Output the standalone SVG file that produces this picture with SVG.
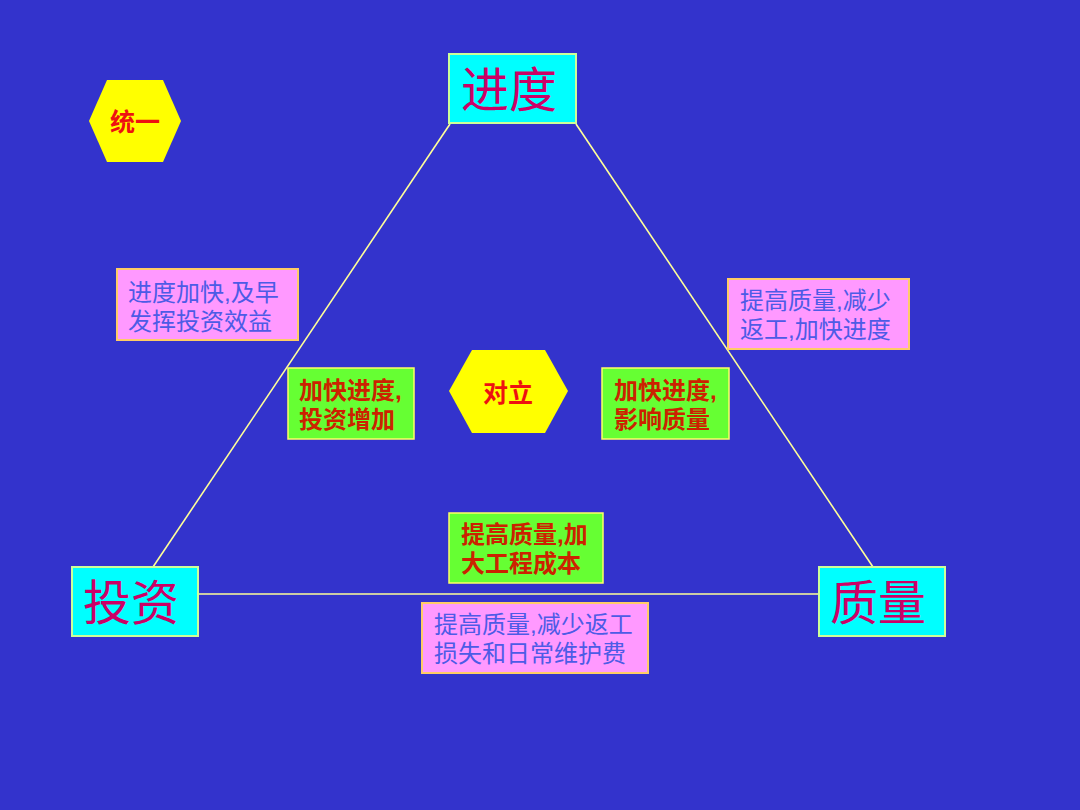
<svg xmlns="http://www.w3.org/2000/svg" width="1080" height="810" viewBox="0 0 1080 810">
<style>
.main{fill:#00FFFF;stroke:#CCFF99;stroke-width:2}
.mainT{font-family:"Liberation Serif","Noto Sans CJK SC",serif;font-size:48px;fill:#CC0066}
.pink{fill:#FF99FF;stroke:#FFCC66;stroke-width:2}
.pinkT{font-family:"Liberation Sans","Noto Sans CJK SC",sans-serif;font-size:24px;fill:#4D5BE6}
.green{fill:#66FF33;stroke:#FFFF66;stroke-width:1.5}
.greenT{font-family:"Liberation Sans","Noto Sans CJK SC",sans-serif;font-size:24px;font-weight:bold;fill:#CC2200}
.hex{fill:#FFFF00}
.hexT{font-family:"Liberation Sans","Noto Sans CJK SC",sans-serif;font-size:25px;font-weight:bold;fill:#EE1111}
.edge{stroke:#FFFF99;stroke-width:1.6;fill:none}
</style>
<rect x="0" y="0" width="1080" height="810" fill="#3333CC"/>
<g id="connectors">
<line class="edge" x1="450" y1="124" x2="153" y2="567"/>
<line class="edge" x1="576" y1="124" x2="873" y2="567"/>
<line class="edge" x1="198" y1="594" x2="819" y2="594"/>
</g>
<g id="node-jindu">
<rect class="main" x="449" y="54" width="127" height="69"/>
<text class="mainT" x="509" y="107" text-anchor="middle">进度</text>
</g>
<g id="node-touzi">
<rect class="main" x="72" y="567" width="126" height="69"/>
<text class="mainT" x="131" y="620" text-anchor="middle">投资</text>
</g>
<g id="node-zhiliang">
<rect class="main" x="819" y="567" width="126" height="69"/>
<text class="mainT" x="878" y="620" text-anchor="middle">质量</text>
</g>
<g id="node-tongyi">
<polygon class="hex" points="89,121 107,80 163,80 181,121 163,162 107,162"/>
<text class="hexT" x="135" y="131" text-anchor="middle">统一</text>
</g>
<g id="node-duili">
<polygon class="hex" points="449,391 472,350 545,350 568,391 545,433 472,433"/>
<text class="hexT" x="508" y="402" text-anchor="middle">对立</text>
</g>
<g id="label-left-pink">
<rect class="pink" x="117" y="269" width="181" height="71"/>
<text class="pinkT" x="128" y="301">进度加快,及早</text>
<text class="pinkT" x="128" y="330">发挥投资效益</text>
</g>
<g id="label-right-pink">
<rect class="pink" x="728" y="279" width="181" height="70"/>
<text class="pinkT" x="740" y="309">提高质量,减少</text>
<text class="pinkT" x="740" y="338">返工,加快进度</text>
</g>
<g id="label-bottom-pink">
<rect class="pink" x="422" y="603" width="226" height="70"/>
<text class="pinkT" x="434" y="633">提高质量,减少返工</text>
<text class="pinkT" x="434" y="662">损失和日常维护费</text>
</g>
<g id="label-left-green">
<rect class="green" x="288" y="368" width="126" height="71"/>
<text class="greenT" x="299" y="399">加快进度,</text>
<text class="greenT" x="299" y="428">投资增加</text>
</g>
<g id="label-right-green">
<rect class="green" x="602" y="368" width="127" height="71"/>
<text class="greenT" x="614" y="399">加快进度,</text>
<text class="greenT" x="614" y="428">影响质量</text>
</g>
<g id="label-bottom-green">
<rect class="green" x="449" y="513" width="154" height="70"/>
<text class="greenT" x="461" y="543">提高质量,加</text>
<text class="greenT" x="461" y="572">大工程成本</text>
</g>
</svg>
